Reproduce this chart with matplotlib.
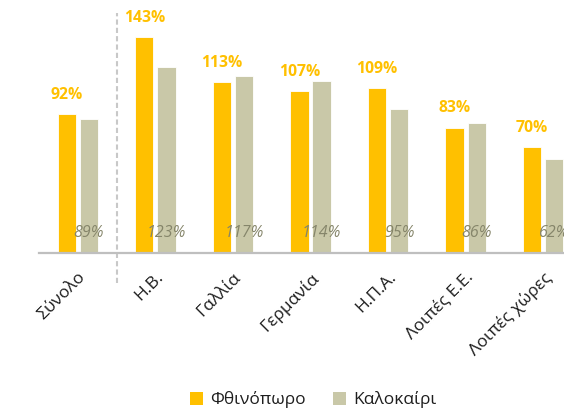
import numpy as np
import matplotlib
matplotlib.use("Agg")
import matplotlib.pyplot as plt
from matplotlib.patches import Patch

plt.rcParams['font.family'] = ['Open Sans', 'DejaVu Sans']

categories = ["Σύνολο", "Η.Β.", "Γαλλία", "Γερμανία", "Η.Π.Α.", "Λοιπές Ε.Ε.", "Λοιπές χώρες"]
autumn = [92, 143, 113, 107, 109, 83, 70]
summer = [89, 123, 117, 114, 95, 86, 62]
series_names = ["Φθινόπωρο", "Καλοκαίρι"]

YELLOW = "#FFC000"
TAN = "#C9C8A8"
TAN_TEXT = "#85856A"
AXIS_GREY = "#BFBFBF"

fig = plt.figure(figsize=(5.64, 4.09), dpi=100)
W, H = 564, 409
base_px, top_px = 252.7, 13
ax = fig.add_axes([39 / W, (H - base_px) / H, 543 / W, (base_px - top_px) / H])

x = np.arange(len(categories))
bw = 0.237
off = 0.143
ax.bar(x - off, autumn, bw, color=YELLOW, edgecolor="white", linewidth=0.6, zorder=2)
ax.bar(x + off, summer, bw, color=TAN, edgecolor="white", linewidth=0.6, zorder=2)

ax.set_xlim(-0.5, len(categories) - 0.5)
ax.set_ylim(0, 159)

for xi, v in zip(x, autumn):
    ax.annotate(f"{v}%", (xi - off, v), xytext=(0, 11), textcoords="offset points",
                ha="center", va="baseline", fontsize=11.3, fontweight="bold",
                color=YELLOW, zorder=3)
for xi, v in zip(x, summer):
    ax.text(xi + off, 10.6, f"{v}%", ha="center", va="baseline", fontsize=11.5,
            fontstyle="italic", color=TAN_TEXT, zorder=3, clip_on=False)

# separator between the total and the individual markets
ax.plot([0.5, 0.5], [-20, 159], color="#C8C8C8", lw=1.5,
        linestyle=(0, (2.5, 1.5)), clip_on=False, zorder=1)

for s in ("top", "right", "left"):
    ax.spines[s].set_visible(False)
ax.spines["bottom"].set_color(AXIS_GREY)
ax.spines["bottom"].set_linewidth(1.6)
ax.set_yticks([])
ax.set_xticks(x)
ax.set_xticklabels(categories, rotation=45, ha="right", va="top",
                   rotation_mode="anchor", fontsize=12.5, color="#1E1E1E")
ax.tick_params(axis="x", length=0, pad=12)

handles = [Patch(facecolor=YELLOW, edgecolor="none"), Patch(facecolor=TAN, edgecolor="none")]
fig.legend(handles, series_names, loc="center", bbox_to_anchor=(313 / W, (H - 400) / H),
           ncol=2, frameon=False, fontsize=12.5, handlelength=0.75, handleheight=0.75,
           handletextpad=0.4, columnspacing=1.6, borderpad=0, labelcolor="#1E1E1E")

fig.savefig("out.png", dpi=100)
